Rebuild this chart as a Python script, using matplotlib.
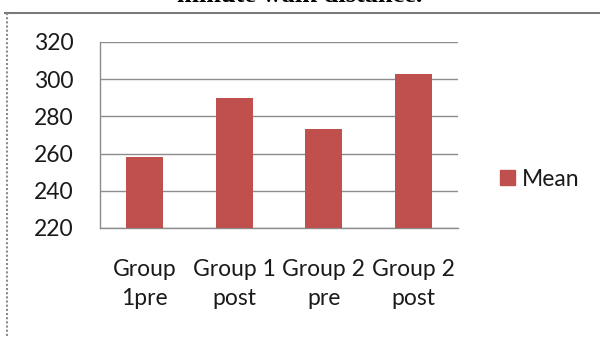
import matplotlib
matplotlib.use("Agg")
import matplotlib.pyplot as plt
from matplotlib.lines import Line2D

categories = ["Group\n1pre", "Group 1\npost", "Group 2\npre", "Group 2\npost"]
means = [258, 290, 273, 303]
yticks = [220, 240, 260, 280, 300, 320]
series_name = "Mean"
title_tail = "minute walk distance."

BAR = "#C0504D"
GRID = "#8c8c8c"
TXT = "#1a1a1a"
FS = 16.5
plt.rcParams["font.family"] = ["Lato", "DejaVu Sans"]

fig = plt.figure(figsize=(6.0, 3.38), dpi=100)
ax = fig.add_axes([100 / 600, 1 - 228 / 338, 358 / 600, 186 / 338])

x = range(len(categories))
ax.bar(x, means, width=0.41, color=BAR, zorder=3, label=series_name)
ax.set_xlim(-0.5, len(categories) - 0.5)
ax.set_ylim(220, 320)
ax.set_yticks(yticks)
ax.set_xticks(list(x))
ax.set_xticklabels(categories, fontsize=FS, color=TXT, linespacing=1.5)
ax.tick_params(axis="y", labelsize=FS, labelcolor=TXT, length=0, pad=19)
ax.tick_params(axis="x", length=0, pad=22)
ax.grid(axis="y", color=GRID, lw=1, zorder=0)
for s in ["top", "right"]:
    ax.spines[s].set_visible(False)
for s in ["left", "bottom"]:
    ax.spines[s].set_color(GRID)
    ax.spines[s].set_linewidth(1)

fig.legend(handles=[plt.Rectangle((0, 0), 1, 1, color=BAR)], labels=[series_name],
           loc="center left", bbox_to_anchor=(479 / 600, 1 - 179 / 338),
           frameon=False, fontsize=FS, handlelength=0.65, handleheight=0.65,
           handletextpad=0.3, labelcolor=TXT)

# outer chart frame (top and dotted left edge)
fig.add_artist(Line2D([5 / 600, 1], [1 - 13 / 338, 1 - 13 / 338], color="#7a7a7a", lw=1.5,
                      transform=fig.transFigure))
fig.add_artist(Line2D([7 / 600, 7 / 600], [1 - 13 / 338, 0], color="#8a8a8a", lw=1.5,
                      ls=(0, (1, 1)), transform=fig.transFigure))

# caption above the chart, clipped by the top edge as in the source
fig.text(0.5, 1 - 2 / 338, title_tail, ha="center", va="baseline", fontsize=19,
         fontweight="bold", family="Liberation Serif")

fig.savefig("out.png", dpi=100)
